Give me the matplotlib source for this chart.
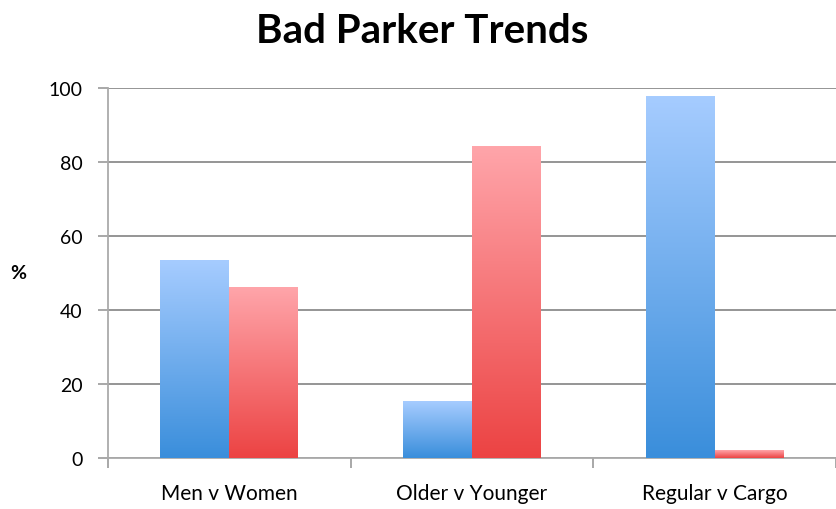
import matplotlib.pyplot as plt
import numpy as np
from matplotlib.colors import LinearSegmentedColormap

categories = ["Men v Women", "Older v Younger", "Regular v Cargo"]
blue_vals = [53.5, 15.4, 97.7]
red_vals = [46.2, 84.2, 2.0]

plt.rcParams['font.family'] = ['Lato', 'DejaVu Sans']

blue_cmap = LinearSegmentedColormap.from_list("b", ["#3a8edb", "#a6ccff"])
red_cmap = LinearSegmentedColormap.from_list("r", ["#ec4343", "#ffa5aa"])

fig = plt.figure(figsize=(8.36, 5.1), dpi=100)
ax = fig.add_axes([0.129, 0.1, 0.871, 0.7255])

x = np.arange(len(categories))
w = 0.284
grad = np.linspace(0, 1, 256).reshape(-1, 1)

def gradient_bars(xs, vals, cmap):
    bars = ax.bar(xs, vals, width=w, color="none", edgecolor="none", zorder=3)
    for b in bars:
        x0, y0 = b.get_x(), b.get_y()
        ax.imshow(grad, cmap=cmap, origin="lower", aspect="auto",
                  extent=(x0, x0 + b.get_width(), y0, y0 + b.get_height()),
                  zorder=3)

gradient_bars(x - w / 2, blue_vals, blue_cmap)
gradient_bars(x + w / 2, red_vals, red_cmap)

ax.set_xlim(-0.5, 2.5)
ax.set_ylim(0, 100)
ax.set_yticks([0, 20, 40, 60, 80, 100])
ax.yaxis.grid(True, color="#8c8c8c", linewidth=1.3, zorder=0)
ax.set_axisbelow(True)

ax.set_xticks(x)
ax.set_xticklabels(categories)
ax.set_xticks([-0.5, 0.5, 1.5, 2.5], minor=True)
ax.tick_params(axis="x", which="major", length=0, pad=18, labelsize=15)
ax.tick_params(axis="x", which="minor", length=7, color="#999999", width=1.2)
ax.tick_params(axis="y", length=7, color="#999999", width=1.2, pad=11, labelsize=14)

for s in ["top", "right"]:
    ax.spines[s].set_visible(False)
ax.spines["left"].set_color("#aaaaaa")
ax.spines["left"].set_linewidth(1.3)
ax.spines["bottom"].set_color("#aaaaaa")
ax.spines["bottom"].set_linewidth(1.3)

ax.set_ylabel("%", rotation=0, fontsize=14, fontweight="bold", labelpad=22, va="center")
fig.suptitle("Bad Parker Trends", fontsize=29, fontweight="bold", x=0.505, y=0.975)

fig.savefig("out.png", dpi=100)
